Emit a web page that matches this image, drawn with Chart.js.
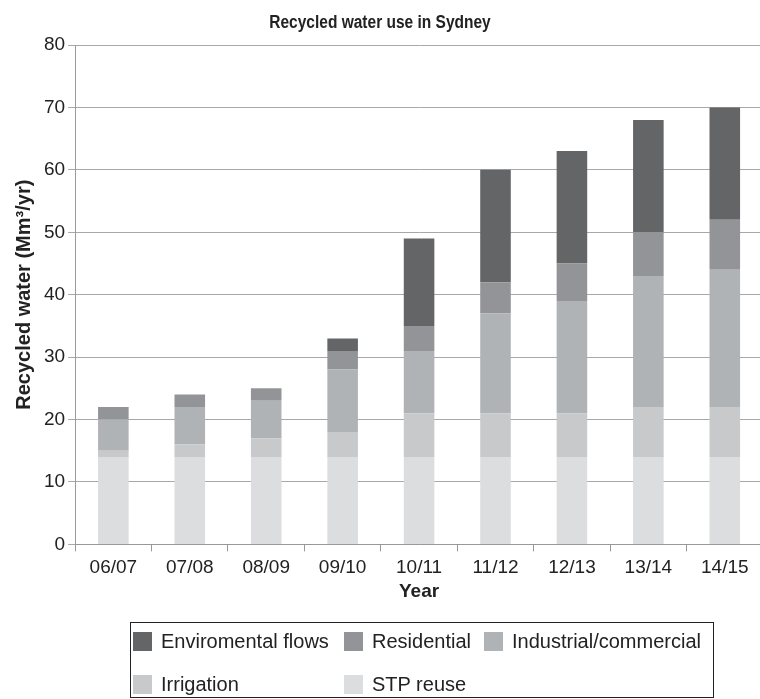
<!DOCTYPE html>
<html>
<head>
<meta charset="utf-8">
<script src="https://cdn.jsdelivr.net/npm/chart.js@4"></script>
<style>
  html, body { margin: 0; padding: 0; background: #fff; overflow: hidden; }
  #wrap { position: relative; width: 760px; height: 699px; overflow: hidden; }
  #c { position: absolute; left: 0; top: 0; }
  #title {
    position: absolute; left: 180px; width: 400px; top: 12px; line-height: 20px;
    text-align: center; font-family: "Liberation Sans", Arial, sans-serif;
    font-size: 15.5px; font-weight: bold; color: #222;
    transform: scaleY(1.18); transform-origin: 50% 50%;
  }
  #legend {
    position: absolute; left: 130px; top: 622px; width: 584px; height: 76px;
    border: 1px solid #222; box-sizing: border-box;
    font-family: "Liberation Sans", Arial, sans-serif; font-size: 20px; color: #222;
  }
  .item { position: absolute; display: flex; align-items: center; height: 24px; }
  .sw { width: 19px; height: 19px; margin-right: 9px; flex: none; }
</style>
</head>
<body>
<div id="wrap">
  <canvas id="c" width="768" height="699"></canvas>
  <div id="title">Recycled water use in Sydney</div>
  <div id="legend"></div>
</div>
<script>
const years = ["06/07", "07/08", "08/09", "09/10", "10/11", "11/12", "12/13", "13/14", "14/15"];
const stpReuse      = [14, 14, 14, 14, 14, 14, 14, 14, 14];
const irrigation    = [1, 2, 3, 4, 7, 7, 7, 8, 8];
const industrial    = [5, 6, 6, 10, 10, 16, 18, 21, 22];
const residential   = [2, 2, 2, 3, 4, 5, 6, 7, 8];
const envFlows      = [0, 0, 0, 2, 14, 18, 18, 18, 18];
const yTicks = [0, 10, 20, 30, 40, 50, 60, 70, 80];

const series = [
  { label: "STP reuse", data: stpReuse, color: "#dcdddf" },
  { label: "Irrigation", data: irrigation, color: "#c8c9cb" },
  { label: "Industrial/commercial", data: industrial, color: "#b0b3b6" },
  { label: "Residential", data: residential, color: "#939497" },
  { label: "Enviromental flows", data: envFlows, color: "#646567" }
];

const FONT = "'Liberation Sans', Arial, sans-serif";

new Chart(document.getElementById("c"), {
  type: "bar",
  data: {
    labels: years,
    datasets: series.map(s => ({
      label: s.label,
      data: s.data,
      backgroundColor: s.color,
      borderWidth: 0,
      barPercentage: 0.4,
      categoryPercentage: 1
    }))
  },
  options: {
    responsive: false,
    animation: false,
    layout: { padding: { left: 12, right: 5, top: 45, bottom: 96 } },
    plugins: {
      legend: { display: false },
      tooltip: { enabled: false },
      title: { display: false }
    },
    scales: {
      x: {
        stacked: true,
        grid: { drawOnChartArea: false, color: "#999", tickLength: 7, offset: true },
        border: { color: "#999" },
        ticks: { color: "#222", font: { family: FONT, size: 19 }, padding: 5 },
        title: {
          display: true, text: "Year", color: "#222",
          font: { family: FONT, size: 19, weight: "bold" }, padding: { top: -4, bottom: 0 }
        }
      },
      y: {
        stacked: true,
        min: 0, max: 80,
        afterBuildTicks: axis => { axis.ticks = yTicks.map(v => ({ value: v })); },
        grid: { color: "#a8a8a8", tickLength: 7 },
        border: { color: "#999" },
        ticks: { color: "#222", font: { family: FONT, size: 19 }, padding: 3 },
        title: {
          display: true, text: "Recycled water (Mm³/yr)", color: "#222",
          font: { family: FONT, size: 20, weight: "bold" }, padding: { top: 0, bottom: 5 }
        }
      }
    }
  }
});

// Legend box below the chart, two rows
const legendLayout = [
  { idx: 4, x: 2, y: 6 },
  { idx: 3, x: 213, y: 6 },
  { idx: 2, x: 353, y: 6 },
  { idx: 1, x: 2, y: 49 },
  { idx: 0, x: 213, y: 49 }
];
const legend = document.getElementById("legend");
legendLayout.forEach(p => {
  const s = series[p.idx];
  const el = document.createElement("div");
  el.className = "item";
  el.style.left = p.x + "px";
  el.style.top = p.y + "px";
  const sw = document.createElement("span");
  sw.className = "sw";
  sw.style.background = s.color;
  const tx = document.createElement("span");
  tx.textContent = s.label;
  el.appendChild(sw);
  el.appendChild(tx);
  legend.appendChild(el);
});
</script>
</body>
</html>
